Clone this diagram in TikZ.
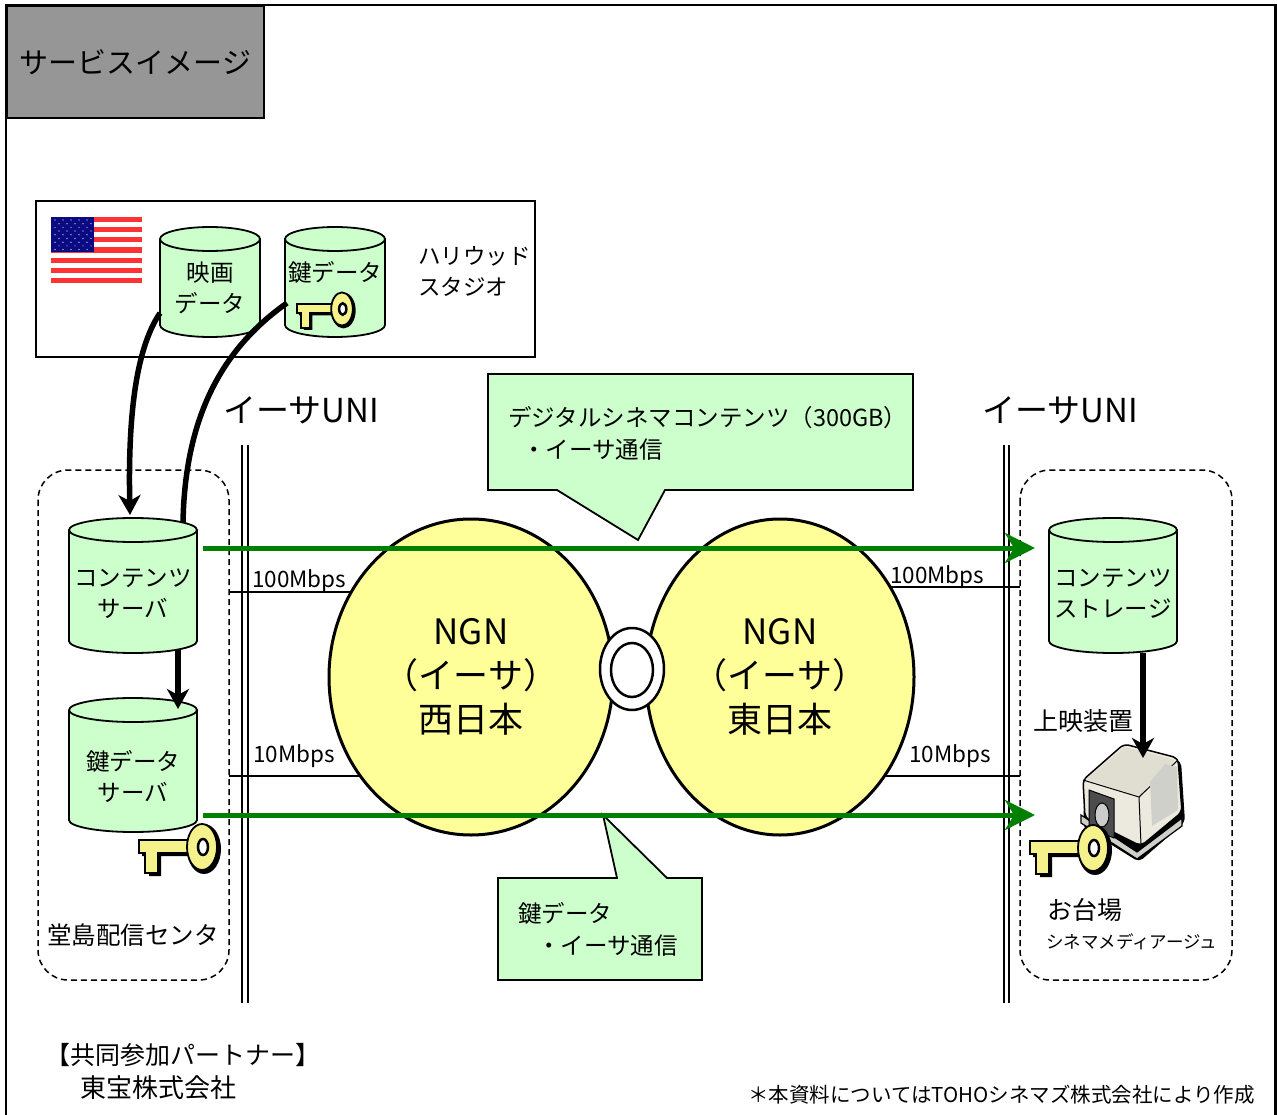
\documentclass[tikz,border=0pt]{standalone}
\usepackage{fontspec}
\setmainfont{Noto Sans CJK JP}
\usetikzlibrary{arrows.meta,shapes.geometric,calc}

\definecolor{drumgreen}{RGB}{204,255,204}
\definecolor{ngnyellow}{RGB}{255,255,153}
\definecolor{flowgreen}{RGB}{0,128,0}
\definecolor{titlegray}{RGB}{150,150,150}
\definecolor{keyyellow}{RGB}{245,242,140}
\definecolor{flagred}{RGB}{255,51,51}
\definecolor{flagblue}{RGB}{10,10,130}
\definecolor{projbody}{RGB}{236,234,222}
\definecolor{projtop}{RGB}{224,222,208}
\definecolor{projpanel}{RGB}{208,208,203}

\tikzset{
  every node/.style={inner sep=0pt},
  txt/.style={font=\fontsize{23.5}{31}\selectfont, align=center},
  drumline/.style={line width=1.8pt, fill=drumgreen},
  flow/.style={line width=5pt, flowgreen, -{Stealth[length=30pt,width=30pt,inset=9pt]}},
  feed/.style={line width=5.5pt, -{Stealth[length=20pt,width=22pt,inset=6pt]}},
  zone/.style={line width=1.5pt, dash pattern=on 6pt off 4pt, rounded corners=30pt},
  bubble/.style={line width=1.8pt, fill=drumgreen},
  rate/.style={font=\fontsize{22.5}{26}\selectfont, anchor=base west},
  ngn/.style={ellipse, draw, line width=3pt, fill=ngnyellow, minimum width=284pt,
    minimum height=316pt, align=center, font=\fontsize{35}{44}\selectfont}
}

% cylinder outline: centre x, x radius, top y, bottom y
\def\drum(#1,#2,#3,#4){
  \draw[drumline] (#1-#2,#3) -- (#1-#2,#4) arc[start angle=180,end angle=0,x radius=#2,y radius=12] -- (#1+#2,#3);
  \draw[drumline] (#1,#3) ellipse[x radius=#2, y radius=12];
}
% key, head centre at (#1,#2)
\def\keyicon(#1,#2)#3{
  \begin{scope}[shift={(#1,#2)}, scale=#3]
    \fill (-60,-5) -- (-10,-5) -- (-10,9) -- (-41,9) -- (-41,29) -- (-53,29) -- (-53,9) -- (-60,9) -- cycle;
    \draw[line width=1.8pt, fill=keyyellow] (-63,-7) -- (-12,-7) -- (-12,6) -- (-44,6) -- (-44,26) -- (-57,26) -- (-57,6) -- (-63,6) -- cycle;
    \fill (2,2) ellipse (17 and 25);
    \draw[line width=1.8pt, fill=keyyellow] (0,0) ellipse (15 and 23);
    \draw[line width=2.5pt, fill=white] (1,0) ellipse (5 and 8);
  \end{scope}
}

\begin{document}
\begin{tikzpicture}[x=1pt, y=-1pt]
  \useasboundingbox (0,0) rectangle (1277,1115);
  \draw[line width=2.2pt] (6,1115) -- (6,5) -- (1275.5,5) -- (1275.5,1115);
  \node[draw, line width=1.8pt, fill=titlegray, anchor=north west, minimum width=257pt,
    minimum height=112pt, font=\fontsize{29}{32}\selectfont] (title) at (6,5) {サービスイメージ};

  % studio
  \draw[line width=1.8pt] (36,201) rectangle (535,357);
  \foreach \i in {0,2,...,12}
    \fill[flagred] (51,{217+\i*66/13}) rectangle (142,{217+(\i+1)*66/13});
  \fill[flagblue] (51,217) rectangle (94,252.5);
  \foreach \r in {0,...,8}
    \foreach \c in {0,...,4}
      \fill[white] ({55+\c*8+mod(\r,2)*4},{220+\r*3.7}) circle (0.6);
  \drum(210,50,239,325)
  \drum(335,50,239,325)
  \node[txt] (movie) at (210,288) {映画\\データ};
  \node[txt] (keydata) at (335,272) {鍵データ};
  \keyicon(342,309){0.72}
  \node[txt, font=\fontsize{22.5}{31}\selectfont, align=left, anchor=west] (studio) at (418,271) {ハリウッド\\スタジオ};

  % sites
  \draw[zone] (38,470) rectangle (229,980);
  \draw[zone] (1020,470) rectangle (1232,980);
  \foreach \x in {241.5,247.5,1003.5,1008.5}
    \draw[line width=2pt] (\x,445) -- (\x,1003);
  \node[font=\fontsize{33}{36}\selectfont] (uniw) at (301,410) {イーサUNI};
  \node[font=\fontsize{33}{36}\selectfont] (unie) at (1060,410) {イーサUNI};

  % access lines
  \coordinate (wc) at (471,677);
  \coordinate (ec) at (780,677);
  \coordinate (w100) at (229,592);
  \coordinate (w10) at (229,776);
  \coordinate (e100) at (1020,587);
  \coordinate (e10) at (1020,776);
  \draw[line width=1.8pt] (w100) -- (w100 -| wc);
  \draw[line width=1.8pt] (w10) -- (w10 -| wc);
  \draw[line width=1.8pt] (e100) -- (e100 -| ec);
  \draw[line width=1.8pt] (e10) -- (e10 -| ec);
  \node[rate] (r1) at (252,587) {100Mbps};
  \node[rate] (r2) at (253,762) {10Mbps};
  \node[rate] (r3) at (890,583) {100Mbps};
  \node[rate] (r4) at (909,762) {10Mbps};

  % networks
  \node[ngn] (west) at (wc) {NGN\\（イーサ）\\西日本};
  \node[ngn, minimum width=268pt] (east) at (ec) {NGN\\（イーサ）\\東日本};
  \draw[line width=2.5pt, fill=white] (632,669) ellipse (32 and 41);
  \draw[line width=2.5pt] (632,670) ellipse (21 and 27);

  % callouts
  \draw[bubble] (488,374) -- (913,374) -- (913,490) -- (665,490) -- (638,540) -- (557,490) -- (488,490) -- cycle;
  \node[txt, anchor=west] (c1a) at (508,418) {デジタルシネマコンテンツ（300GB）};
  \node[txt, anchor=west] (c1b) at (522,450) {・イーサ通信};
  \draw[bubble] (498,878) -- (617,878) -- (603,815) -- (667,878) -- (702,878) -- (702,980) -- (498,980) -- cycle;
  \node[txt, anchor=west] (c2a) at (518,913) {鍵データ};
  \node[txt, anchor=west] (c2b) at (537,946) {・イーサ通信};

  % servers
  \drum(133,64,530,641)
  \drum(133,64,710,820)
  \drum(1113,64,530,641)
  \node[txt] (cserver) at (133,594) {コンテンツ\\サーバ};
  \node[txt] (kserver) at (133,777) {鍵データ\\サーバ};
  \node[txt] (storage) at (1113,594) {コンテンツ\\ストレージ};
  \keyicon(202,847){1}
  \node[font=\fontsize{24.5}{28}\selectfont] (dojima) at (133,935) {堂島配信センタ};

  % projector
  \fill[rounded corners=5pt] (1085,783) -- (1126,747) -- (1181,761) -- (1185,822) -- (1139,862) -- (1083,827) -- cycle;
  \draw[line width=1.2pt, fill=projpanel] (1081,815) -- (1137,852) -- (1182,818) -- (1182,826) -- (1137,859) -- (1081,823) -- cycle;
  \draw[line width=1.5pt, fill=projbody, rounded corners=5pt] (1083,780) -- (1124,744) -- (1178,758) -- (1182,812) -- (1141,846) -- (1085,818) -- cycle;
  \fill[projtop] (1086,779) -- (1125,747) -- (1175,760) -- (1139,796) -- cycle;
  \draw[line width=1pt] (1083,780) -- (1139,797) -- (1178,760);
  \draw[line width=1pt] (1139,797) -- (1141,845);
  \fill[projpanel] (1150,782) -- (1165,764) -- (1177,767) -- (1178,810) -- (1152,826) -- cycle;
  \draw[line width=1pt, fill=black!70] (1089,790) -- (1114,799) -- (1114,838) -- (1089,828) -- cycle;
  \draw[line width=1pt, fill=black!20] (1102,815) ellipse (7 and 12);
  \keyicon(1093,848){1}
  \node[font=\fontsize{25}{28}\selectfont] (screen) at (1083,721) {上映装置};
  \node[font=\fontsize{25}{28}\selectfont, anchor=west] (odaiba) at (1047,910) {お台場};
  \node[font=\fontsize{17.5}{20}\selectfont, anchor=west] (mediage) at (1046,942) {シネマメディアージュ};

  % transfers
  \coordinate (cs-out) at (203,548);
  \coordinate (st-in) at (1035,548);
  \coordinate (ks-out) at (203,815);
  \coordinate (pj-in) at (1035,815);
  \draw[flow] (cs-out) -- (st-in);
  \draw[flow] (ks-out) -- (pj-in);

  \coordinate (movie-w) at (160,313);
  \coordinate (cs-n) at (130,515);
  \coordinate (keydata-w) at (287,303);
  \coordinate (cs-ne) at (183,522);
  \coordinate (cs-s) at (178,650);
  \coordinate (ks-n) at (178,709);
  \coordinate (st-s) at (1143,653);
  \coordinate (pj-n) at (1143,758);
  \draw[feed] (movie-w) .. controls (135,350) and (128,420) .. (cs-n);
  \draw[line width=5.5pt] (keydata-w) .. controls (220,350) and (185,420) .. (cs-ne);
  \draw[feed] (cs-s) -- (ks-n);
  \draw[feed] (st-s) -- (pj-n);

  % notes
  \node[font=\fontsize{25}{28}\selectfont, anchor=west] (partner) at (45,1055) {【共同参加パートナー】};
  \node[font=\fontsize{26}{28}\selectfont, anchor=west] (toho) at (80,1088) {東宝株式会社};
  \node[font=\fontsize{20.5}{24}\selectfont, anchor=west] (note) at (748,1095) {＊本資料についてはTOHOシネマズ株式会社により作成};
\end{tikzpicture}
\end{document}
